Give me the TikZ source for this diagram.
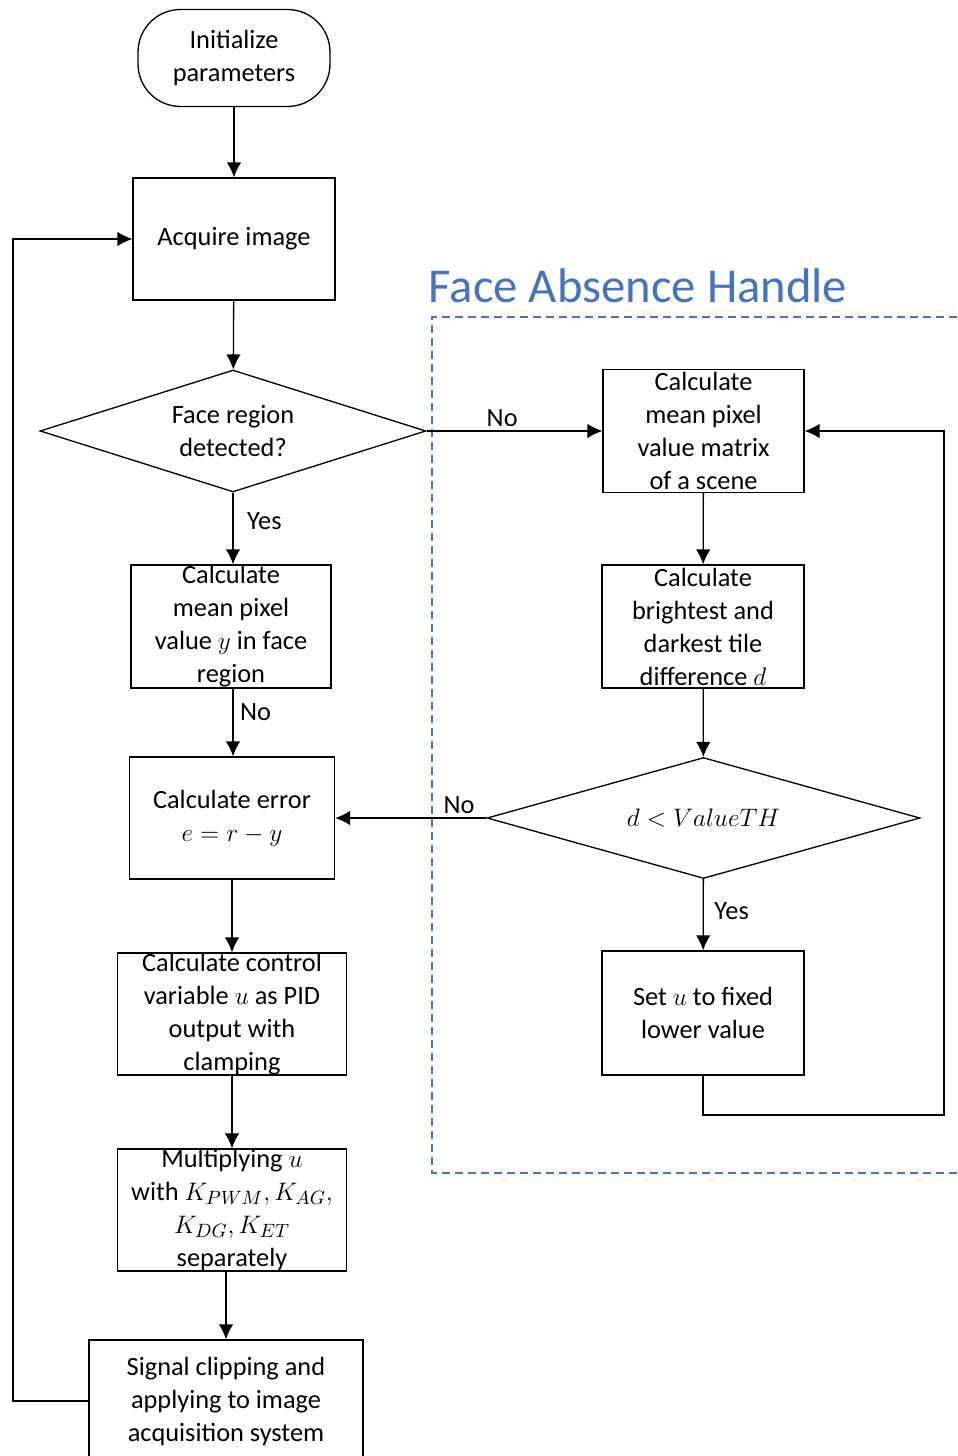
\documentclass[tikz,border=0pt]{standalone}
\usepackage{fontspec}
\setmainfont{Carlito}
\usetikzlibrary{shapes.geometric, arrows.meta, positioning}
\definecolor{handleblue}{RGB}{68,114,196}

\begin{document}
\begin{tikzpicture}[x = 0.02cm, y = -0.02cm, >={Latex[length = 3mm, width = 2.9mm]}, line width = 0.75pt,
        font = \fontsize{15}{18.8}\selectfont]
    \tikzstyle{block} = [draw, shape = rectangle, inner sep = 0pt, align = center, minimum height = 2.44cm]
    \tikzstyle{decision} = [draw, shape = diamond, inner sep = 0pt, align = center, minimum height = 2.44cm]
    \tikzstyle{terminal} = [draw, shape = rectangle, rounded corners = 0.85cm, align = center, minimum width = 3.84cm, minimum height = 1.94cm]
    \tikzstyle{label} = [inner sep = 2pt]
    \useasboundingbox (0,0) rectangle (957,1456);

    % main loop
    \node[terminal] (init) at (234,58) {Initialize\\parameters};
    \node[block, minimum width = 4.04cm] (acquire) at (234,239) {Acquire image};
    \node[decision, minimum width = 7.72cm, aspect = 3.16] (face) at (233,431) {Face region\\detected?};
    \node[block, minimum width = 4.0cm, minimum height = 2.46cm] (meanface) at (231,626.5)
        {Calculate\\mean pixel\\value $y$ in face\\region};
    \node[block, minimum width = 4.1cm] (error) at (232,818) {Calculate error\\$e = r - y$};
    \node[block, minimum width = 4.58cm] (control) at (232,1014)
        {Calculate control\\variable $u$ as PID\\output with\\clamping};
    \node[block, minimum width = 4.58cm] (mult) at (232,1210)
        {Multiplying $u$\\with $K_{PWM}, K_{AG},$\\$K_{DG}, K_{ET}$\\separately};
    \node[block, minimum width = 5.48cm] (signal) at (226,1401)
        {Signal clipping and\\applying to image\\acquisition system};
    \coordinate (back) at (13,1401);

    % face absence handle
    \node[text = handleblue, font = \fontsize{27.7}{30}\selectfont] (title) at (638,286) {Face Absence Handle};
    \coordinate (frameTR) at (957,317);
    \coordinate (frameTL) at (432,317);
    \coordinate (frameBL) at (432,1173);
    \coordinate (frameBR) at (957,1173);
    \draw[handleblue, dash pattern = on 0.16cm off 0.1cm] (frameTR) -- (frameTL) -- (frameBL) -- (frameBR);

    \node[block, minimum width = 4.02cm, minimum height = 2.46cm] (scene) at (703.5,431)
        {Calculate\\mean pixel\\value matrix\\of a scene};
    \node[block, minimum width = 4.04cm, minimum height = 2.46cm] (tile) at (703,626.5)
        {Calculate\\brightest and\\darkest tile\\difference $d$};
    \node[decision, minimum width = 8.66cm, minimum height = 2.42cm, aspect = 3.58] (thresh) at (703.5,818)
        {$d < ValueTH$};
    \node[block, minimum width = 4.04cm, minimum height = 2.48cm] (setu) at (703,1013)
        {Set $u$ to fixed\\lower value};
    \coordinate (loop) at (944,1115);

    \draw[->] (init) -- (acquire);
    \draw[->] (acquire) -- (face);
    \draw[->] (face) -- node[label, right, pos = 0.4, xshift = 0.2cm] {Yes} (face |- meanface.north);
    \draw[->] (face |- meanface.south) -- node[label, right, pos = 0.35, xshift = 0.06cm] {No} (face |- error.north);
    \draw[->] (error) -- (control);
    \draw[->] (control) -- (mult);
    \draw[->] (mult.south -| signal) -- (signal);
    \draw[->] (signal.west) -- (back) |- (acquire.west);

    \draw[->] (face.east) -- node[label, above, pos = 0.43] {No} (scene.west);
    \draw[->] (scene) -- (tile);
    \draw[->] (tile) -- (thresh);
    \draw[->] (thresh) -- node[label, right, pos = 0.45, xshift = 0.14cm] {Yes} (setu);
    \draw[->] (thresh.west) -- node[label, above, pos = 0.18] {No} (error.east);
    \draw[->] (setu.south) |- (loop) |- (scene.east);
\end{tikzpicture}
\end{document}
